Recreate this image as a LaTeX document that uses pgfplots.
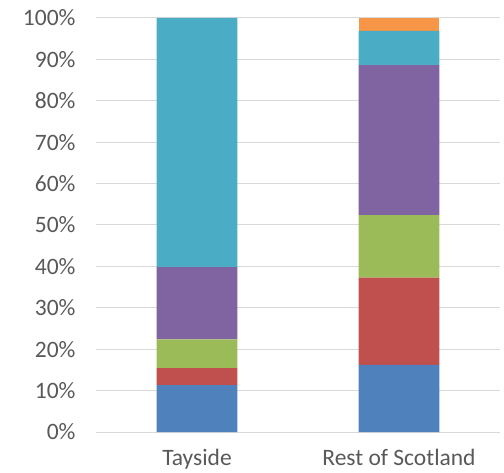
\documentclass[border=0pt]{standalone}
\usepackage{pgfplots}
\pgfplotsset{compat=1.18}
\usepackage{fontspec}
\setmainfont{Carlito}
\definecolor{cBlue}{HTML}{4F81BD}
\definecolor{cRed}{HTML}{C0504D}
\definecolor{cGreen}{HTML}{9BBB59}
\definecolor{cPurple}{HTML}{8064A2}
\definecolor{cTeal}{HTML}{4BACC6}
\definecolor{cOrange}{HTML}{F79646}
\definecolor{gridc}{HTML}{D9D9D9}
\definecolor{textc}{HTML}{595959}
\begin{document}
\begin{tikzpicture}
\useasboundingbox (-96bp,-41bp) rectangle (408bp,432bp);
\begin{axis}[
  at={(0,0)}, anchor=south west,
  scale only axis,
  width=404bp, height=414bp,
  ybar stacked,
  bar width=0.4,
  xmin=-0.5, xmax=1.5,
  ymin=0, ymax=100,
  xtick={0,1},
  xticklabels={Tayside,Rest of Scotland},
  ytick={0,10,...,100},
  yticklabels={0\%,10\%,20\%,30\%,40\%,50\%,60\%,70\%,80\%,90\%,100\%},
  ymajorgrids,
  grid style={gridc, line width=1bp},
  axis line style={draw=none},
  axis x line*=bottom,
  axis y line*=left,
  x axis line style={draw=gridc, line width=1bp},
  y axis line style={draw=none},
  major tick length=0pt,
  tick label style={font=\fontsize{23.5bp}{28bp}\selectfont, text=textc},
  yticklabel style={xshift=-17bp},
  xticklabel style={yshift=-14bp},
  every axis plot/.append style={draw=none},
  clip=false,
]
\addplot[fill=cBlue] coordinates {(0,11.3) (1,16.2)};
\addplot[fill=cRed] coordinates {(0,4.1) (1,21.1)};
\addplot[fill=cGreen] coordinates {(0,7.0) (1,15.1)};
\addplot[fill=cPurple] coordinates {(0,17.4) (1,36.2)};
\addplot[fill=cTeal] coordinates {(0,60.2) (1,8.3)};
\addplot[fill=cOrange] coordinates {(0,0) (1,3.1)};
\end{axis}
\end{tikzpicture}
\end{document}
